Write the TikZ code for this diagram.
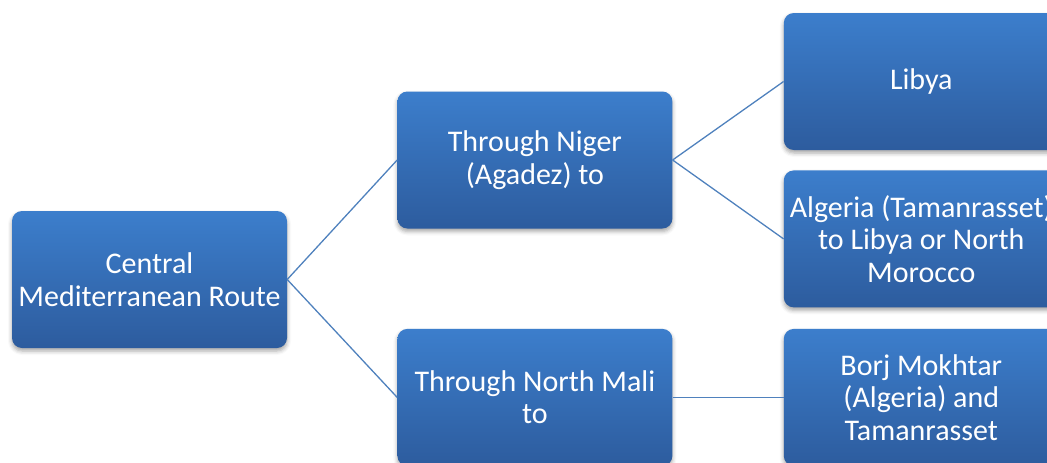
\documentclass[tikz,border=0pt]{standalone}
\usepackage{fontspec}
\setmainfont{Carlito}
\usetikzlibrary{positioning,shadows.blur}

\definecolor{boxtop}{RGB}{60,126,204}
\definecolor{boxbottom}{RGB}{45,92,158}
\definecolor{linkblue}{RGB}{79,129,189}

\begin{document}
\begin{tikzpicture}[every node/.style={font=\fontsize{30}{32.5}\selectfont, text=white, align=center},
  routebox/.style={rectangle, rounded corners=10pt, minimum width=275pt, minimum height=137pt, inner sep=2pt,
    top color=boxtop, bottom color=boxbottom, blur shadow={shadow xshift=0pt, shadow yshift=-3pt, shadow blur radius=4pt, shadow opacity=35}},
  link/.style={draw=linkblue, line width=1.3pt}]
\clip (0pt,0pt) rectangle (1047pt,-463pt);
\node[routebox] (central) at (149.5pt,-279.5pt) {Central\\Mediterranean Route};
\node[routebox, right=110pt of central, yshift=119.5pt] (niger) {Through Niger\\(Agadez) to};
\node[routebox, below=100pt of niger] (mali) {Through North Mali\\to};
\node[routebox, right=111pt of niger, yshift=78.5pt] (libya) {Libya};
\node[routebox, below=20pt of libya] (algeria) {Algeria (Tamanrasset)\\to Libya or North\\Morocco};
\node[routebox, right=111pt of mali] (borj) {Borj Mokhtar\\(Algeria) and\\Tamanrasset};
\draw[link] (central.east) -- (niger.west);
\draw[link] (central.east) -- (mali.west);
\draw[link] (niger.east) -- (libya.west);
\draw[link] (niger.east) -- (algeria.west);
\draw[link] (mali.east) -- (borj.west);
\end{tikzpicture}
\end{document}
